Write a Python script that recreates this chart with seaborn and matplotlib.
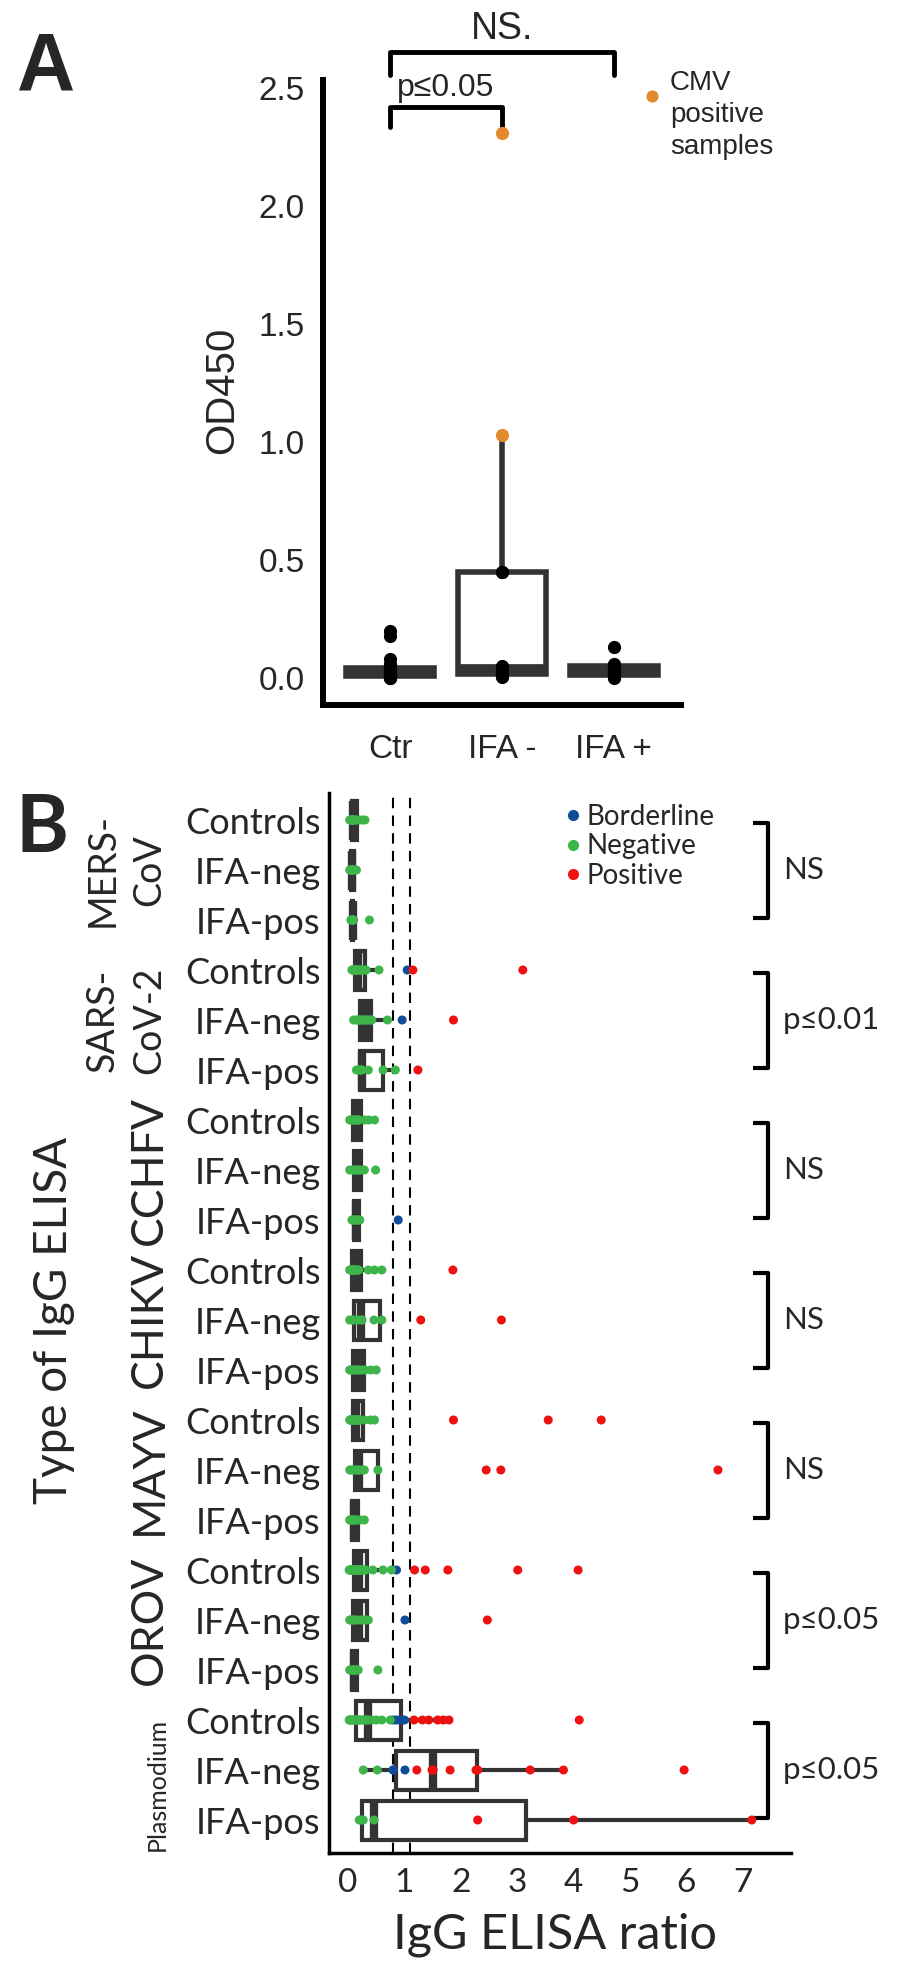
import matplotlib
matplotlib.use("Agg")
import pandas as pd
import seaborn as sns
import matplotlib.pyplot as plt
from matplotlib.lines import Line2D
from matplotlib.transforms import blended_transform_factory

# ---------------------------
# Global settings
# ---------------------------
sns.set_style("white")
plt.rcParams["font.family"] = ["Lato", "DejaVu Sans"]
ARIAL = ["Liberation Sans", "DejaVu Sans"]
EDGE = "#333333"

# ---------------------------
# Panel A data (OD450 per group)
# ---------------------------
a_groups = ["Ctr", "IFA -", "IFA +"]
ctr_od = [0.0, 0.0, 0.005, 0.01, 0.01, 0.01, 0.015, 0.02, 0.02, 0.02,
          0.025, 0.03, 0.03, 0.035, 0.04, 0.05, 0.06, 0.08, 0.18, 0.2]
ifa_neg_od = [0.005, 0.01, 0.015, 0.02, 0.03, 0.05, 0.45, 0.45, 1.03, 2.31]
ifa_pos_od = [0.0, 0.005, 0.01, 0.015, 0.02, 0.025, 0.03, 0.04, 0.05,
              0.055, 0.06, 0.13]
cmv_od = [1.03, 2.31]  # CMV positive samples in the IFA - group

# ---------------------------
# Panel B data (IgG ELISA ratio), one list per cohort:
# [Controls, IFA-neg, IFA-pos]
# ---------------------------
targets = ["MERS-\nCoV", "SARS-\nCoV-2", "CCHFV", "CHIKV", "MAYV", "OROV", "Plasmodium"]
cohorts = ["Controls", "IFA-neg", "IFA-pos"]
results = ["Borderline", "Negative", "Positive"]
result_colors = ["#0E4C9A", "#3DB54A", "#EE1111"]
cutoffs = [0.8, 1.1]
b_annot = ["NS", "p≤0.01", "NS", "NS", "NS", "p≤0.05", "p≤0.05"]

mers_neg = [[0.03, 0.05, 0.06, 0.07, 0.08, 0.09, 0.1, 0.12, 0.15, 0.2, 0.25, 0.3],
            [0.03, 0.05, 0.06, 0.07, 0.08, 0.1, 0.12, 0.15],
            [0.05, 0.06, 0.07, 0.08, 0.09, 0.1, 0.38]]
mers_bord = [[], [], []]
mers_pos = [[], [], []]

sars_neg = [[0.07, 0.08, 0.09, 0.1, 0.11, 0.12, 0.13, 0.14, 0.15, 0.16, 0.18,
             0.2, 0.2, 0.22, 0.25, 0.3, 0.32, 0.55],
            [0.1, 0.15, 0.18, 0.2, 0.22, 0.25, 0.28, 0.3, 0.33, 0.36, 0.4, 0.42, 0.7],
            [0.15, 0.2, 0.22, 0.23, 0.25, 0.36, 0.62, 0.84]]
sars_bord = [[1.05], [0.96], []]
sars_pos = [[1.15, 3.1], [1.87], [1.24]]

cchf_neg = [[0.03, 0.06, 0.08, 0.1, 0.12, 0.14, 0.16, 0.18, 0.2, 0.3, 0.37, 0.47],
            [0.03, 0.08, 0.1, 0.12, 0.15, 0.18, 0.2, 0.24, 0.29, 0.49],
            [0.07, 0.1, 0.12, 0.14, 0.16, 0.19, 0.21]]
cchf_bord = [[], [], [0.89]]
cchf_pos = [[], [], []]

chik_neg = [[0.03, 0.05, 0.06, 0.07, 0.08, 0.1, 0.11, 0.12, 0.14, 0.15, 0.17,
             0.19, 0.36, 0.47, 0.6],
            [0.03, 0.08, 0.1, 0.15, 0.2, 0.25, 0.46, 0.6],
            [0.03, 0.06, 0.08, 0.1, 0.14, 0.18, 0.22, 0.26, 0.3, 0.4, 0.5]]
chik_bord = [[], [], []]
chik_pos = [[1.86], [1.29, 2.72], []]

mayv_neg = [[0.03, 0.04, 0.05, 0.06, 0.07, 0.08, 0.09, 0.1, 0.11, 0.12, 0.13,
             0.14, 0.15, 0.16, 0.18, 0.2, 0.22, 0.3, 0.4, 0.47],
            [0.03, 0.06, 0.08, 0.12, 0.15, 0.18, 0.2, 0.25, 0.29, 0.53],
            [0.03, 0.05, 0.07, 0.09, 0.1, 0.12, 0.14, 0.18, 0.22, 0.29]]
mayv_bord = [[], [], []]
mayv_pos = [[1.87, 3.55, 4.49], [2.45, 2.71, 6.56], []]

orov_neg = [[0.02, 0.03, 0.04, 0.05, 0.06, 0.07, 0.08, 0.09, 0.1, 0.11, 0.12,
             0.13, 0.14, 0.15, 0.16, 0.17, 0.18, 0.19, 0.2, 0.21, 0.22, 0.24,
             0.25, 0.26, 0.28, 0.3, 0.31, 0.44, 0.62, 0.77],
            [0.03, 0.05, 0.08, 0.1, 0.14, 0.2, 0.25, 0.3, 0.36],
            [0.03, 0.05, 0.07, 0.09, 0.1, 0.12, 0.14, 0.16, 0.18, 0.53]]
orov_bord = [[0.86], [1.01], []]
orov_pos = [[1.18, 1.37, 1.77, 3.01, 4.08], [2.47], []]

plas_neg = [[0.02, 0.03, 0.05, 0.06, 0.08, 0.1, 0.11, 0.12, 0.14, 0.16, 0.18,
             0.2, 0.23, 0.26, 0.3, 0.33, 0.37, 0.42, 0.5, 0.6, 0.75],
            [0.27, 0.52],
            [0.2, 0.23, 0.27, 0.46]]
plas_bord = [[0.8, 0.85, 0.91, 1.0], [0.8, 0.8, 1.01], []]
plas_pos = [[1.17, 1.32, 1.43, 1.59, 1.69, 1.79, 4.1],
            [1.22, 1.49, 1.51, 1.81, 2.27, 2.3, 3.23, 3.82, 5.96],
            [2.3, 4.0, 7.16]]

# ---------------------------
# Build tables
# ---------------------------
df_a = pd.DataFrame({
    "group": ["Ctr"] * len(ctr_od) + ["IFA -"] * len(ifa_neg_od) + ["IFA +"] * len(ifa_pos_od),
    "od": ctr_od + ifa_neg_od + ifa_pos_od,
})
df_a["cmv"] = (df_a["group"] == "IFA -") & df_a["od"].isin(cmv_od)

target_sets = [(mers_bord, mers_neg, mers_pos), (sars_bord, sars_neg, sars_pos),
               (cchf_bord, cchf_neg, cchf_pos), (chik_bord, chik_neg, chik_pos),
               (mayv_bord, mayv_neg, mayv_pos), (orov_bord, orov_neg, orov_pos),
               (plas_bord, plas_neg, plas_pos)]
recs = []
for t, sets in zip(targets, target_sets):
    for res, per_cohort in zip(results, sets):
        for c, vals in zip(cohorts, per_cohort):
            for v in vals:
                recs.append({"row": f"{t}|{c}", "ratio": v, "result": res})
df_b = pd.DataFrame(recs)
row_order = [f"{t}|{c}" for t in targets for c in cohorts]

# ---------------------------
# Figure
# ---------------------------
fig = plt.figure(figsize=(9, 19.7), dpi=100)
W, H = 900, 1970
axA = fig.add_axes([323 / W, 1 - 705 / H, 358 / W, 625 / H])
axB = fig.add_axes([329 / W, 1 - 1853 / H, 462 / W, 1060 / H])

# ---------------------------
# Panel A
# ---------------------------
sns.boxplot(data=df_a, x="group", y="od", order=a_groups, ax=axA, color="white",
            linecolor=EDGE, linewidth=4, width=0.78, showfliers=False, showcaps=False,
            medianprops={"linewidth": 7})
sns.stripplot(data=df_a[~df_a["cmv"]], x="group", y="od", order=a_groups, ax=axA,
              jitter=False, color="black", size=9.5, zorder=3)
sns.stripplot(data=df_a[df_a["cmv"]], x="group", y="od", order=a_groups, ax=axA,
              jitter=False, color="#E38B2C", size=9.5, zorder=3)
axA.set_xlim(-0.6, 2.6)
axA.set_ylim(-0.114, 2.534)
axA.set_yticks([0, 0.5, 1.0, 1.5, 2.0, 2.5])
axA.set_yticklabels(["0.0", "0.5", "1.0", "1.5", "2.0", "2.5"])
axA.set_xlabel("")
axA.set_ylabel("")
sns.despine(ax=axA)
for sp in ["left", "bottom"]:
    axA.spines[sp].set_linewidth(4.3)
    axA.spines[sp].set_color("black")
axA.tick_params(axis="both", length=9, width=4, color="black", labelsize=24, pad=4)
axA.tick_params(axis="x", pad=12)
for lbl in axA.get_xticklabels() + axA.get_yticklabels():
    lbl.set_family(ARIAL)

# significance brackets
axA.plot([0, 0, 2, 2], [2.556, 2.654, 2.654, 2.556], color="black", lw=3.5, clip_on=False)
axA.text(1, 2.675, "NS.", ha="center", va="bottom", fontsize=27, family=ARIAL)
axA.plot([0, 0, 1, 1], [2.333, 2.42, 2.42, 2.333], color="black", lw=3.5, clip_on=False)
axA.text(0.5, 2.435, "p≤0.05", ha="center", va="bottom", fontsize=23, family=ARIAL)

# CMV key
axA.scatter([2.34], [2.466], s=60, color="#E38B2C", clip_on=False, zorder=4)
fig.text(670 / W, 1 - 115 / H, "CMV\npositive\nsamples", ha="left", va="center",
         fontsize=20, family=ARIAL, linespacing=1.3)
fig.text(222 / W, 1 - 390 / H, "OD450", rotation=90, ha="center", va="center",
         fontsize=29, family=ARIAL)
fig.text(17 / W, 1 - 90 / H, "A", fontsize=58, fontweight="bold", family=ARIAL,
         va="baseline")

# ---------------------------
# Panel B
# ---------------------------
sns.boxplot(data=df_b, x="ratio", y="row", order=row_order, orient="h", ax=axB,
            color="white", linecolor=EDGE, linewidth=3, width=0.78, showfliers=False,
            showcaps=False, medianprops={"linewidth": 6})
sns.stripplot(data=df_b, x="ratio", y="row", order=row_order, orient="h", ax=axB,
              hue="result", hue_order=results, palette=dict(zip(results, result_colors)),
              jitter=False, size=6.5, legend=False, zorder=3)
for c in cutoffs:
    axB.axvline(c, color="black", lw=1.5, ls=(0, (5, 3.5)), zorder=1)
axB.set_xlim(-0.337, 7.855)
axB.set_ylim(20.66, -0.54)
axB.set_xticks(range(8))
axB.set_yticks(range(len(row_order)))
axB.set_yticklabels(cohorts * len(targets))
axB.set_xlabel("")
axB.set_ylabel("")
sns.despine(ax=axB)
for sp in ["left", "bottom"]:
    axB.spines[sp].set_linewidth(2.5)
    axB.spines[sp].set_color("black")
axB.tick_params(axis="y", length=4, width=2, color="black", labelsize=26, pad=2)
axB.tick_params(axis="x", length=7, width=2.5, color="black", labelsize=24, pad=4)

# group labels on the left
tr = blended_transform_factory(fig.transFigure, axB.transData)
for i, t in enumerate(targets):
    if "\n" in t:
        fig.text(126 / W, 3 * i + 1, t, transform=tr, rotation=90, ha="center",
                 va="center", fontsize=27, linespacing=1.35, multialignment="center")
    elif t == "Plasmodium":
        fig.text(157 / W, 3 * i + 1.28, t, transform=tr, rotation=90, ha="center",
                 va="center", fontsize=18)
    else:
        fig.text(149 / W, 3 * i + 1, t, transform=tr, rotation=90, ha="center",
                 va="center", fontsize=32)

# significance brackets on the right
tb = axB.get_yaxis_transform()
for i, lab in enumerate(b_annot):
    y0, y1 = 3 * i + 0.06, 3 * i + 1.95
    axB.plot([0.918, 0.950, 0.950, 0.918], [y0, y0, y1, y1], transform=tb,
             color="black", lw=3, clip_on=False, solid_capstyle="butt")
    axB.text(0.983, 3 * i + 1, lab, transform=tb, ha="left", va="center", fontsize=22.5)

handles = [Line2D([], [], marker="o", ls="", color=c, markersize=7) for c in result_colors]
axB.legend(handles, results, loc="upper left", bbox_to_anchor=(563 / W, 1 - 804 / H),
           bbox_transform=fig.transFigure, frameon=False, fontsize=20,
           handletextpad=0.15, labelspacing=0.12, borderpad=0, borderaxespad=0,
           handlelength=0.7)

fig.text(555 / W, 1 - 1935 / H, "IgG ELISA ratio", ha="center", va="center", fontsize=35)
fig.text(54 / W, 1 - 1320 / H, "Type of IgG ELISA", rotation=90, ha="center",
         va="center", fontsize=33)
fig.text(15 / W, 1 - 852 / H, "B", fontsize=58, fontweight="bold", va="baseline")

fig.savefig("out.png", dpi=100)
